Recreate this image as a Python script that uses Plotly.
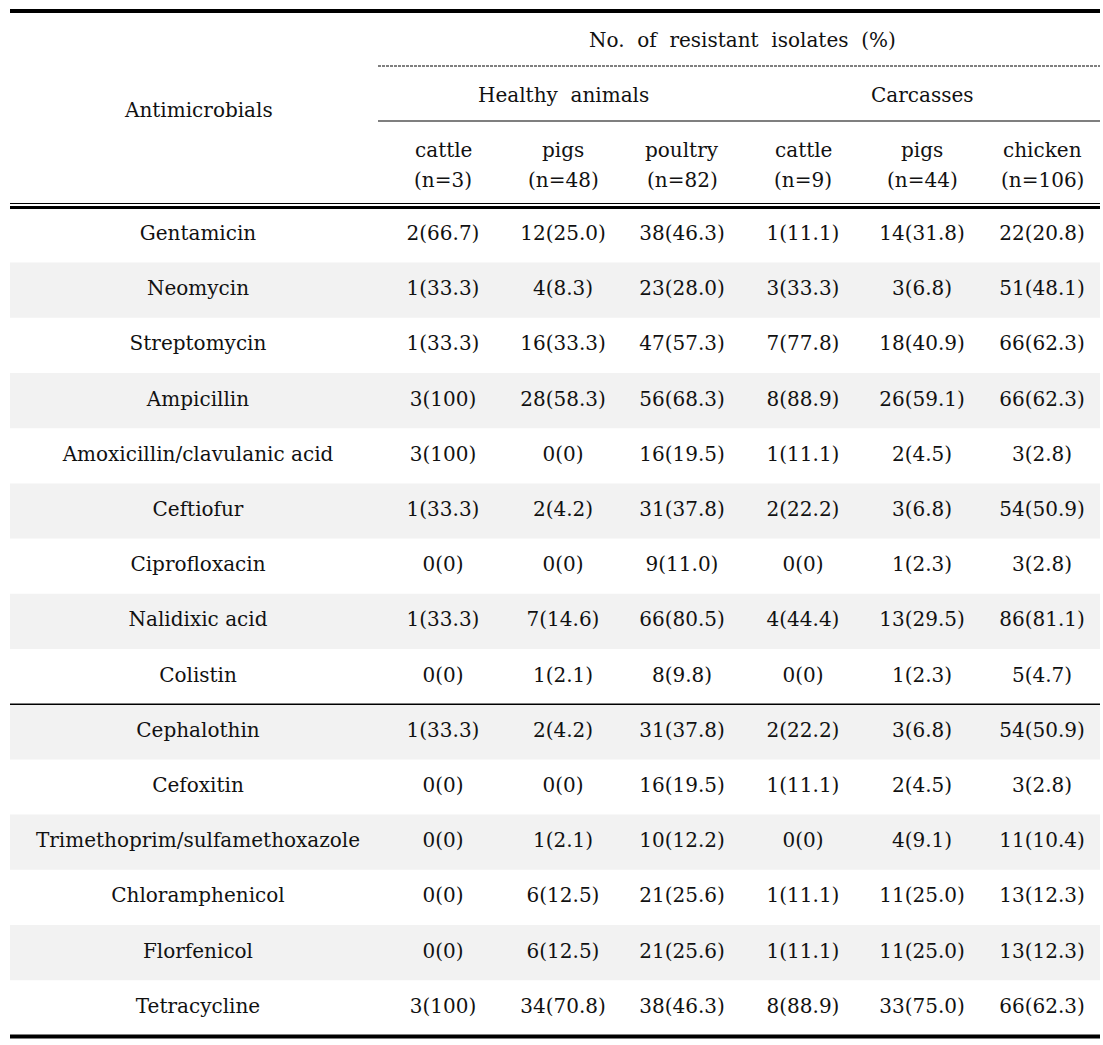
import plotly.graph_objects as go

antimicrobials = ["Gentamicin", "Neomycin", "Streptomycin", "Ampicillin",
                  "Amoxicillin/clavulanic acid", "Ceftiofur", "Ciprofloxacin",
                  "Nalidixic acid", "Colistin", "Cephalothin", "Cefoxitin",
                  "Trimethoprim/sulfamethoxazole", "Chloramphenicol",
                  "Florfenicol", "Tetracycline"]

groups = ["Healthy animals", "Carcasses"]
species = ["cattle", "pigs", "poultry", "cattle", "pigs", "chicken"]
n_isolates = [3, 48, 82, 9, 44, 106]

ha_cattle_n = [2, 1, 1, 3, 3, 1, 0, 1, 0, 1, 0, 0, 0, 0, 3]
ha_cattle_p = [66.7, 33.3, 33.3, 100, 100, 33.3, 0, 33.3, 0, 33.3, 0, 0, 0, 0, 100]
ha_pigs_n = [12, 4, 16, 28, 0, 2, 0, 7, 1, 2, 0, 1, 6, 6, 34]
ha_pigs_p = [25.0, 8.3, 33.3, 58.3, 0, 4.2, 0, 14.6, 2.1, 4.2, 0, 2.1, 12.5, 12.5, 70.8]
ha_poultry_n = [38, 23, 47, 56, 16, 31, 9, 66, 8, 31, 16, 10, 21, 21, 38]
ha_poultry_p = [46.3, 28.0, 57.3, 68.3, 19.5, 37.8, 11.0, 80.5, 9.8, 37.8, 19.5, 12.2, 25.6, 25.6, 46.3]
ca_cattle_n = [1, 3, 7, 8, 1, 2, 0, 4, 0, 2, 1, 0, 1, 1, 8]
ca_cattle_p = [11.1, 33.3, 77.8, 88.9, 11.1, 22.2, 0, 44.4, 0, 22.2, 11.1, 0, 11.1, 11.1, 88.9]
ca_pigs_n = [14, 3, 18, 26, 2, 3, 1, 13, 1, 3, 2, 4, 11, 11, 33]
ca_pigs_p = [31.8, 6.8, 40.9, 59.1, 4.5, 6.8, 2.3, 29.5, 2.3, 6.8, 4.5, 9.1, 25.0, 25.0, 75.0]
ca_chicken_n = [22, 51, 66, 66, 3, 54, 3, 86, 5, 54, 3, 11, 13, 13, 66]
ca_chicken_p = [20.8, 48.1, 62.3, 62.3, 2.8, 50.9, 2.8, 81.1, 4.7, 50.9, 2.8, 10.4, 12.3, 12.3, 62.3]

counts = [ha_cattle_n, ha_pigs_n, ha_poultry_n, ca_cattle_n, ca_pigs_n, ca_chicken_n]
pcts = [ha_cattle_p, ha_pigs_p, ha_poultry_p, ca_cattle_p, ca_pigs_p, ca_chicken_p]


def fmt(c, p):
    if p == 0 or p == 100:
        return f"{c}({int(p)})"
    return f"{c}({p:.1f})"


# ---- layout constants (pixels) ----
W, H = 1103, 1045
X0, X1 = 10, 1100
name_x = 198
col_x = [443, 563, 682, 803, 922, 1042]
row_top = 207.4
row_h = 55.2
FONT = "DejaVu Serif"
FS = 20
COLOR = "#111111"

fig = go.Figure()

nrows = len(antimicrobials)
row_y = [row_top + (i + 0.5) * row_h for i in range(nrows)]

shapes = []
for i in range(nrows):
    if i % 2 == 1:
        shapes.append(dict(type="rect", x0=X0, x1=X1,
                           y0=row_top + i * row_h, y1=row_top + (i + 1) * row_h,
                           fillcolor="#f2f2f2", line=dict(width=0), layer="below"))

# names column
fig.add_trace(go.Scatter(x=[name_x] * nrows, y=row_y, mode="text",
                         text=antimicrobials, textposition="middle center",
                         textfont=dict(family=FONT, size=FS, color=COLOR),
                         hoverinfo="skip", showlegend=False))
# value columns
for j in range(len(species)):
    fig.add_trace(go.Scatter(x=[col_x[j]] * nrows, y=row_y, mode="text",
                             text=[fmt(c, p) for c, p in zip(counts[j], pcts[j])],
                             textposition="middle center",
                             textfont=dict(family=FONT, size=FS, color=COLOR),
                             hoverinfo="skip", showlegend=False))

# header
ann = []
def add_text(x, y, t):
    ann.append(dict(x=x, y=y, xref="x", yref="y", text=t, showarrow=False,
                    font=dict(family=FONT, size=FS, color=COLOR),
                    xanchor="center", yanchor="middle"))

add_text(name_x, 110, "Antimicrobials")
add_text(742, 40, "No.\u00a0 of\u00a0 resistant\u00a0 isolates\u00a0 (%)")
add_text(563, 95, "Healthy\u00a0 animals")
add_text(922, 95, "Carcasses")
for j in range(len(species)):
    add_text(col_x[j], 150, species[j])
    add_text(col_x[j], 180, f"(n={n_isolates[j]})")

# lines
shapes += [
    dict(type="line", x0=X0, x1=X1, y0=11, y1=11, line=dict(color="black", width=4)),
    dict(type="line", x0=378, x1=X1, y0=66, y1=66, line=dict(color="black", width=1, dash="3px,1px")),
    dict(type="line", x0=378, x1=X1, y0=121, y1=121, line=dict(color="black", width=1.2)),
    dict(type="line", x0=X0, x1=X1, y0=203.5, y1=203.5, line=dict(color="black", width=1.2)),
    dict(type="line", x0=X0, x1=X1, y0=207.5, y1=207.5, line=dict(color="black", width=3)),
    dict(type="line", x0=X0, x1=X1, y0=row_top + 9 * row_h, y1=row_top + 9 * row_h,
         line=dict(color="black", width=1.5)),
    dict(type="line", x0=X0, x1=X1, y0=row_top + nrows * row_h + 1, y1=row_top + nrows * row_h + 1,
         line=dict(color="black", width=4)),
]

fig.update_layout(
    width=W, height=H,
    margin=dict(l=0, r=0, t=0, b=0),
    paper_bgcolor="white", plot_bgcolor="white",
    xaxis=dict(range=[0, W], visible=False, fixedrange=True),
    yaxis=dict(range=[H, 0], visible=False, fixedrange=True),
    shapes=shapes, annotations=ann,
)

fig.write_html("out.html", config={"displayModeBar": False},
               post_script="document.body.style.margin='0';document.body.style.overflow='hidden';")
